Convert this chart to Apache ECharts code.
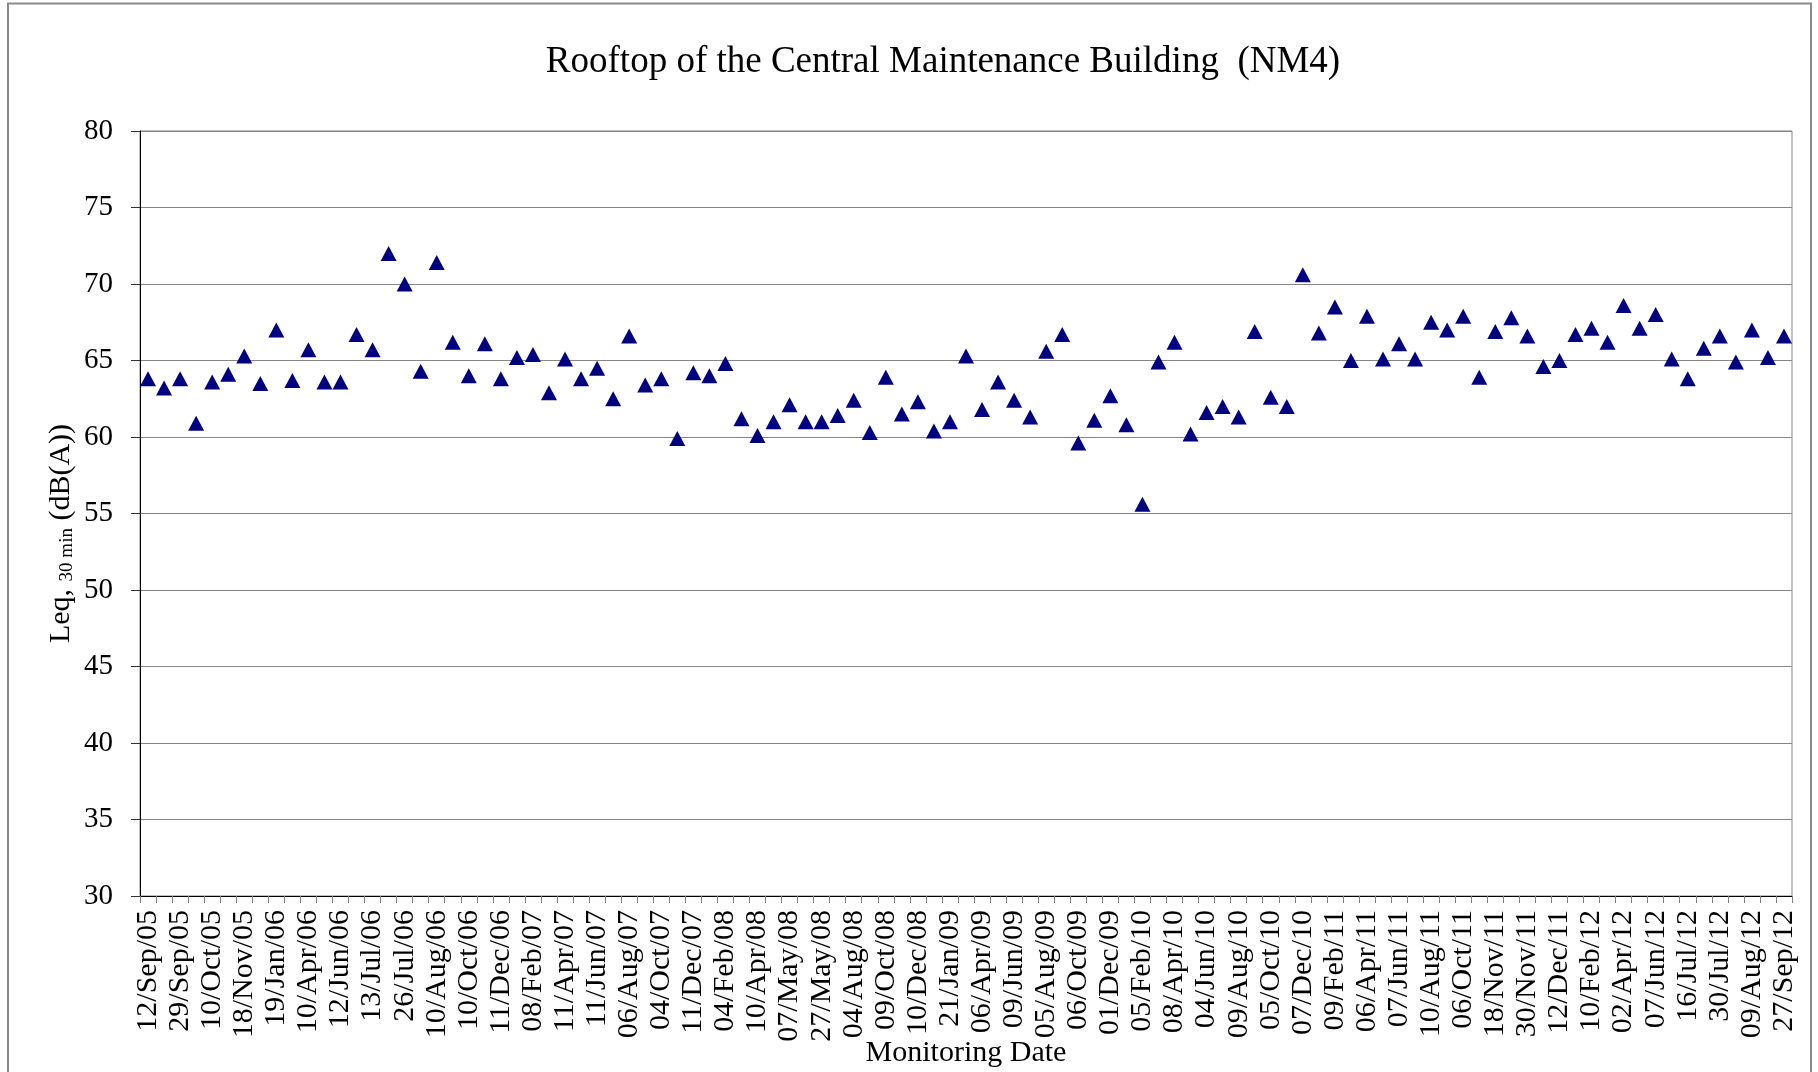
<!DOCTYPE html>
<html>
<head>
<meta charset="utf-8">
<script src="https://cdn.jsdelivr.net/npm/echarts@6.0.0/dist/echarts.min.js"></script>
<style>
  html, body { margin: 0; padding: 0; background: #ffffff; }
  #chart { width: 1818px; height: 1072px; }
</style>
</head>
<body>
<div id="chart"></div>
<script>
// Tick labels shown on every other category (as in the reference)
const tickLabels = [
  '12/Sep/05','29/Sep/05','10/Oct/05','18/Nov/05','19/Jan/06','10/Apr/06','12/Jun/06','13/Jul/06',
  '26/Jul/06','10/Aug/06','10/Oct/06','11/Dec/06','08/Feb/07','11/Apr/07','11/Jun/07','06/Aug/07',
  '04/Oct/07','11/Dec/07','04/Feb/08','10/Apr/08','07/May/08','27/May/08','04/Aug/08','09/Oct/08',
  '10/Dec/08','21/Jan/09','06/Apr/09','09/Jun/09','05/Aug/09','06/Oct/09','01/Dec/09','05/Feb/10',
  '08/Apr/10','04/Jun/10','09/Aug/10','05/Oct/10','07/Dec/10','09/Feb/11','06/Apr/11','07/Jun/11',
  '10/Aug/11','06/Oct/11','18/Nov/11','30/Nov/11','12/Dec/11','10/Feb/12','02/Apr/12','07/Jun/12',
  '16/Jul/12','30/Jul/12','09/Aug/12','27/Sep/12'
];

// Leq 30 min, dB(A), one value per monitoring date (103 dates)
const leqValues = [
  63.8, 63.2, 63.8, 60.9, 63.6, 64.1, 65.3, 63.5, 67.0, 63.7,
  65.7, 63.6, 63.6, 66.7, 65.7, 72.0, 70.0, 64.3, 71.4, 66.2,
  64.0, 66.1, 63.8, 65.2, 65.4, 62.9, 65.1, 63.8, 64.5, 62.5,
  66.6, 63.4, 63.8, 59.9, 64.2, 64.0, 64.8, 61.2, 60.1, 61.0,
  62.1, 61.0, 61.0, 61.4, 62.4, 60.3, 63.9, 61.5, 62.3, 60.4,
  61.0, 65.3, 61.8, 63.6, 62.4, 61.3, 65.6, 66.7, 59.6, 61.1,
  62.7, 60.8, 55.6, 64.9, 66.2, 60.2, 61.6, 62.0, 61.3, 66.9,
  62.6, 62.0, 70.6, 66.8, 68.5, 65.0, 67.9, 65.1, 66.1, 65.1,
  67.5, 67.0, 67.9, 63.9, 66.9, 67.8, 66.6, 64.6, 65.0, 66.7,
  67.1, 66.2, 68.6, 67.1, 68.0, 65.1, 63.8, 65.8, 66.6, 64.9,
  67.0, 65.2, 66.6
];

const yTicks = { min: 30, max: 80, interval: 5 };

// Categories: labelled dates at even positions, unlabelled dates in between
const categories = leqValues.map((v, i) => (i % 2 === 0 ? (tickLabels[i / 2] || '') : ''));

const FONT = "'Liberation Serif', 'Times New Roman', serif";

const chart = echarts.init(document.getElementById('chart'), null, { renderer: 'canvas' });
chart.setOption({
  animation: false,
  backgroundColor: '#ffffff',
  title: {
    text: 'Rooftop of the Central Maintenance Building  (NM4)',
    left: 943,
    top: 44,
    padding: 0,
    textAlign: 'center',
    textStyle: { fontFamily: FONT, fontSize: 37, fontWeight: 'normal', color: '#000' }
  },
  graphic: [{
    type: 'rect',
    silent: true,
    shape: { x: 8, y: 3.5, width: 1803, height: 1100 },
    style: { fill: 'none', stroke: '#8a8a8a', lineWidth: 2 }
  }],
  grid: {
    left: 140, right: 26, top: 131, bottom: 176,
    containLabel: false,
    outerBoundsMode: 'none',
    show: true,
    borderColor: '#868686',
    borderWidth: 1
  },
  xAxis: {
    type: 'category',
    data: categories,
    boundaryGap: true,
    name: 'Monitoring Date',
    nameLocation: 'middle',
    nameGap: 142,
    nameMoveOverlap: false,
    nameTextStyle: { fontFamily: FONT, fontSize: 30, color: '#000' },
    axisLine: { show: true, lineStyle: { color: '#000', width: 1 } },
    axisTick: { show: true, interval: 0, length: 7, lineStyle: { color: '#808080' } },
    axisLabel: {
      interval: 1,
      rotate: 90,
      margin: 14,
      fontFamily: FONT,
      fontSize: 30,
      color: '#000'
    },
    splitLine: { show: false }
  },
  yAxis: {
    type: 'value',
    min: yTicks.min,
    max: yTicks.max,
    interval: yTicks.interval,
    name: '{m|Leq, }{s|30 min}{m| (dB(A))}',
    nameLocation: 'middle',
    nameRotate: 90,
    nameGap: 63,
    nameMoveOverlap: false,
    nameTextStyle: {
      fontFamily: FONT, fontSize: 30, color: '#000',
      padding: [0, 40, 0, 0],
      rich: {
        m: { fontFamily: FONT, fontSize: 30, color: '#000' },
        s: { fontFamily: FONT, fontSize: 19, color: '#000', padding: [13, 0, 0, 0] }
      }
    },
    axisLine: { show: true, lineStyle: { color: '#000', width: 1 } },
    axisTick: { show: true, length: 9, lineStyle: { color: '#333' } },
    axisLabel: { margin: 27, fontFamily: FONT, fontSize: 29, color: '#000' },
    splitLine: { show: true, lineStyle: { color: '#868686', width: 1 } }
  },
  series: [{
    type: 'scatter',
    data: leqValues,
    symbol: 'triangle',
    symbolSize: [16, 15],
    itemStyle: { color: '#000080', opacity: 1 },
    emphasis: { disabled: true }
  }]
});
</script>
</body>
</html>
